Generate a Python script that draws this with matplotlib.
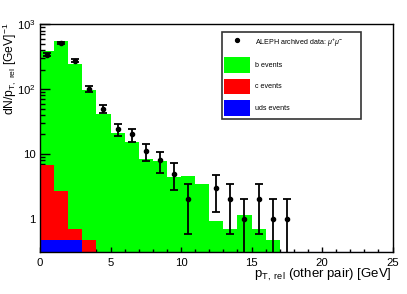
import matplotlib
matplotlib.use("Agg")
import matplotlib.pyplot as plt
import numpy as np
from matplotlib.lines import Line2D
from matplotlib.patches import Patch
from matplotlib.ticker import LogLocator, FixedLocator, FixedFormatter, MultipleLocator

plt.rcParams["font.family"] = ["Liberation Sans", "DejaVu Sans"]
plt.rcParams["mathtext.fontset"] = "custom"
plt.rcParams["mathtext.rm"] = "Liberation Sans"
plt.rcParams["mathtext.it"] = "Liberation Sans:italic"
plt.rcParams["mathtext.bf"] = "Liberation Sans:bold"

# MC templates, 1 GeV bins starting at 0
b_events = [384, 561, 242, 96.5, 40.8, 21.3, 15.5, 8.4, 7.9, 4.43, 4.59, 3.45,
            0.94, 0.70, 1.15, 0.70, 0.475]
c_events = [6.77, 2.73, 0.69, 0.475]
uds_events = [0.475, 0.475, 0.475]

# data counts per bin (bin 11 is empty)
data_counts = [340, 515, 275, 102, 50, 24, 20, 11, 8, 5, 2, 0, 3, 2, 1, 2, 1, 1]

fig = plt.figure(figsize=(4.07, 2.94), dpi=100)
ax = fig.add_axes([0.0983, 0.1418, 0.8661, 0.7755])

base = 1e-3
ax.stairs(b_events, np.arange(len(b_events) + 1), fill=True, color="#00ff00",
          baseline=base, zorder=1)
ax.stairs(c_events, np.arange(len(c_events) + 1), fill=True, color="#ff0000",
          baseline=base, zorder=2)
ax.stairs(uds_events, np.arange(len(uds_events) + 1), fill=True, color="#0000ff",
          baseline=base, zorder=3)
# empty part of the uds histogram shows as a line on the bottom
ax.hlines(0.305, len(uds_events), 25, color="#3030c0", lw=0.8, zorder=3)

counts = np.array(data_counts, dtype=float)
centers = np.arange(len(counts)) + 0.5
keep = counts > 0
err = np.sqrt(counts[keep])
lo = np.minimum(err, counts[keep] - 1e-2)
ax.errorbar(centers[keep], counts[keep], yerr=[lo, err], fmt="o", color="black",
            ms=3, elinewidth=1.3, capsize=3, capthick=1.3, zorder=5)

ax.set_yscale("log")
ax.set_xlim(0, 25)
ax.set_ylim(0.305, 1000)

ax.xaxis.set_major_locator(MultipleLocator(5))
ax.xaxis.set_minor_locator(MultipleLocator(1))
ax.yaxis.set_major_locator(FixedLocator([1, 10, 100, 1000]))
ax.yaxis.set_major_formatter(FixedFormatter(["1", "10", "$10^{2}$", "$10^{3}$"]))
ax.yaxis.set_minor_locator(LogLocator(base=10, subs=np.arange(2, 10)))
ax.yaxis.set_minor_formatter(FixedFormatter([]))

ax.tick_params(axis="both", which="both", direction="in", top=False, right=False,
               labelsize=8.2, width=1.0, colors="black")
ax.tick_params(axis="x", which="major", length=3.8, pad=4)
ax.tick_params(axis="x", which="minor", length=2)
ax.tick_params(axis="y", which="major", length=7, pad=3)
ax.tick_params(axis="y", which="minor", length=3.6)
for s in ax.spines.values():
    s.set_linewidth(1.0)
    s.set_zorder(6)

fig.text(0.963, 0.054, r"p$_{\mathrm{T,\ rel}}$ (other pair) [GeV]", ha="right",
         va="baseline", fontsize=9.5)
fig.text(0.0235, 0.925, r"dN/p$_{\mathrm{T,\ rel}}$ [GeV]$^{-1}$", rotation=90,
         ha="center", va="top", fontsize=8.7)

handles = [
    Line2D([], [], marker="o", ls="none", color="black", ms=2.8),
    Patch(facecolor="#00ff00", edgecolor="none"),
    Patch(facecolor="#ff0000", edgecolor="none"),
    Patch(facecolor="#0000ff", edgecolor="none"),
]
labels = [r"ALEPH archived data: $\mu^{+}\mu^{-}$", "b events", "c events", "uds events"]
leg = ax.legend(handles, labels, loc="upper left",
                bbox_to_anchor=(0.515, 0.588, 0.3965, 0.377), mode="expand",
                fontsize=5.1, handlelength=3.64, handleheight=3.03, handletextpad=0.7,
                labelspacing=0.85, borderpad=0.4, borderaxespad=0,
                fancybox=False, frameon=True)
leg.get_frame().set_edgecolor("black")
leg.get_frame().set_linewidth(1.2)

fig.savefig("out.png", dpi=100)
